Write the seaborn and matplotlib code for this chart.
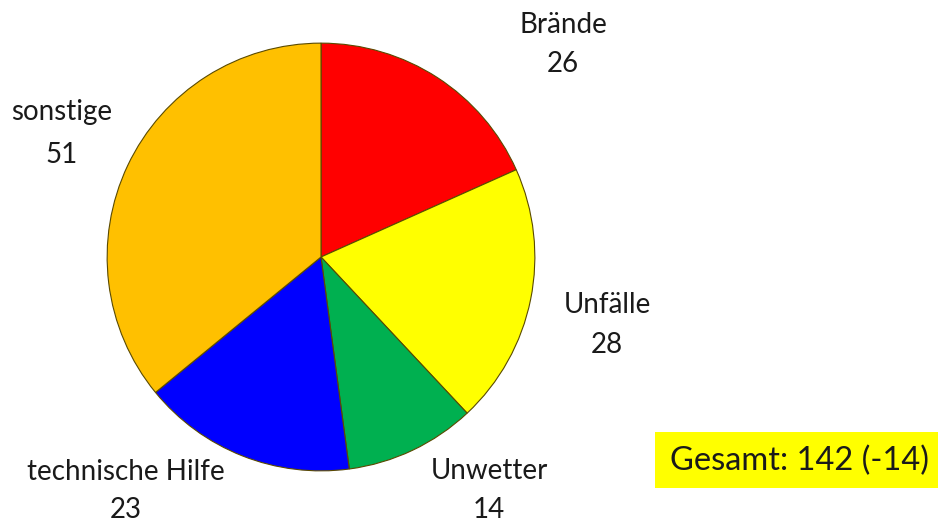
import matplotlib
matplotlib.use("Agg")
import matplotlib.pyplot as plt
import seaborn as sns

categories = ["Brände", "Unfälle", "Unwetter", "technische Hilfe", "sonstige"]
values = [26, 28, 14, 23, 51]
colors = ["#FF0000", "#FFFF00", "#00B050", "#0000FF", "#FFC000"]
total_label = "Gesamt: 142 (-14)"

sns.set_theme(style="white")
plt.rcParams['font.family'] = ['Lato', 'DejaVu Sans']

W, H = 938, 526
fig = plt.figure(figsize=(W / 100, H / 100), dpi=100)
cx, cy, r = 321, 257, 216
ax = fig.add_axes([(cx - r) / W, (H - cy - r) / H, 2 * r / W, 2 * r / H])
wedges, _ = ax.pie(values, colors=colors, startangle=90, counterclock=False,
                   radius=1.0,
                   wedgeprops=dict(edgecolor="#5a4a00", linewidth=0.8))
ax.set_xlim(-1.01, 1.01)
ax.set_ylim(-1.01, 1.01)
ax.set_aspect("equal")
ax.axis("off")

label_pos = [(563, 25, 64), (607, 305, 345), (489, 471, 510), (126, 472, 510), (62, 112, 155)]
for (name, val), (x, y1, y2) in zip(zip(categories, values), label_pos):
    fig.text(x / W, 1 - y1 / H, name, ha="center", va="center", fontsize=20, color="#1a1a1a")
    fig.text(x / W, 1 - y2 / H, str(val), ha="center", va="center", fontsize=20, color="#1a1a1a")

fig.patches.append(plt.Rectangle((655 / W, 1 - 488 / H), (938 - 655) / W, (488 - 432) / H,
                                 transform=fig.transFigure, facecolor="#FFFF00",
                                 edgecolor="none", zorder=0))
fig.text(800 / W, 1 - 461 / H, total_label, ha="center", va="center", fontsize=23.5, color="#1a1a1a")

fig.savefig("out.png", dpi=100, facecolor="white")
